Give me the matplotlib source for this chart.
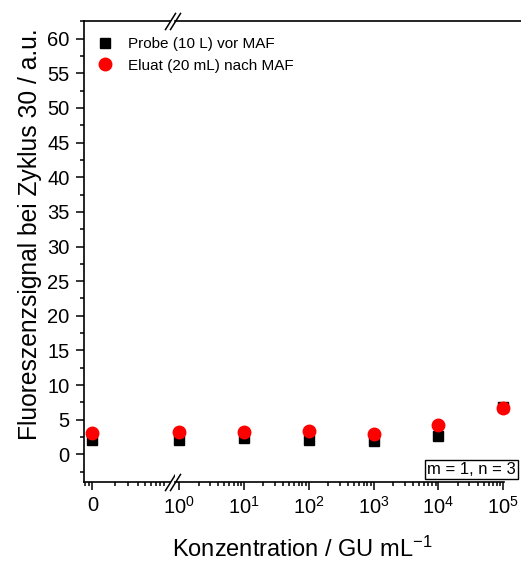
import numpy as np
import matplotlib.pyplot as plt
from matplotlib.ticker import FixedLocator, LogLocator, MultipleLocator, NullFormatter

plt.rcParams['font.family'] = ['Liberation Sans', 'DejaVu Sans']
plt.rcParams['mathtext.fontset'] = 'custom'
plt.rcParams['mathtext.rm'] = 'Liberation Sans'
plt.rcParams['mathtext.it'] = 'Liberation Sans:italic'

# Konzentrationen (GU/mL) und Fluoreszenz bei Zyklus 30
konz = [0, 1e0, 1e1, 1e2, 1e3, 1e4, 1e5]
probe = [2.0, 2.1, 2.4, 2.1, 1.9, 2.7, 6.8]
eluat = [3.1, 3.2, 3.2, 3.3, 2.9, 4.3, 6.7]
xtick_labels = ['0', r'$\mathregular{10^{0}}$', r'$\mathregular{10^{1}}$', r'$\mathregular{10^{2}}$',
                r'$\mathregular{10^{3}}$', r'$\mathregular{10^{4}}$', r'$\mathregular{10^{5}}$']

# die Null steht links vom Achsenbruch bei 0.1 auf einer eigenen log-Achse
x_null = 0.1

W, H = 521, 563
fig = plt.figure(figsize=(W / 100, H / 100), dpi=100)
y0, y1 = 481.7, 20.7
ax1 = fig.add_axes([84 / W, (H - y0) / H, (170 - 84) / W, (y0 - y1) / H])
ax2 = fig.add_axes([175 / W, (H - y0) / H, (W - 175) / W, (y0 - y1) / H], sharey=ax1)

ms_q, ms_k = 7.9, 9.0
for ax, xs, p, e in [(ax1, [x_null], probe[:1], eluat[:1]),
                     (ax2, konz[1:], probe[1:], eluat[1:])]:
    ax.plot(xs, p, ls='none', marker='s', ms=ms_q, color='black', mec='black',
            label='Probe (10 L) vor MAF', clip_on=False, zorder=3)
    ax.plot(xs, e, ls='none', marker='o', ms=ms_k, color='red', mec='red',
            label='Eluat (20 mL) nach MAF', clip_on=False, zorder=4)
    ax.set_xscale('log')
    ax.spines['right'].set_visible(False)
    for s in ['left', 'bottom', 'top']:
        ax.spines[s].set_linewidth(1.2)
    ax.tick_params(which='major', direction='out', length=6, width=1.1, labelsize=14.5,
                   top=False, right=False, pad=4.5)
    ax.tick_params(which='minor', direction='out', length=3, width=1.1, top=False, right=False)
    ax.xaxis.set_minor_formatter(NullFormatter())

ax1.set_xlim(10 ** -1.113, 10 ** 0.033)
ax1.xaxis.set_major_locator(FixedLocator([x_null]))
ax1.set_xticklabels(xtick_labels[:1])
ax1.xaxis.set_minor_locator(LogLocator(base=10, subs=np.arange(2, 10) * 1.0, numticks=20))

ax2.set_xlim(10 ** -0.0617, 10 ** 5.272)
ax2.xaxis.set_major_locator(FixedLocator(konz[1:]))
ax2.set_xticklabels(xtick_labels[1:])
ax2.xaxis.set_minor_locator(FixedLocator([m * 10 ** k for k in range(5) for m in range(2, 10)]))
ax2.spines['left'].set_visible(False)
ax2.spines['bottom'].set_bounds(10 ** -0.0617, 1e5 * 1.01)
ax2.tick_params(axis='y', which='both', left=False, labelleft=False)

ax1.set_ylim(-3.95, 62.6)
ax1.set_yticks(np.arange(0, 61, 5))
ax1.yaxis.set_minor_locator(MultipleLocator(2.5))

# Bruchzeichen oben und unten
brk = dict(ls='none', marker=[(-1, -1.6), (1, 1.6)], ms=12.5, mew=1.1, color='black',
           clip_on=False, zorder=6)
ax1.plot([1, 1], [0, 1], transform=ax1.transAxes, **brk)
ax2.plot([0, 0], [0, 1], transform=ax2.transAxes, **brk)

fig.text(302 / W, 1 - 556.5 / H, r'Konzentration / GU mL$\mathregular{^{-1}}$', fontsize=17,
         ha='center', va='baseline')
fig.text(30 / W, 1 - 234.5 / H, 'Fluoreszenzsignal bei Zyklus 30 / a.u.', fontsize=17.7,
         rotation=90, ha='center', va='center')

handles, labels = ax1.get_legend_handles_labels()
fig.legend(handles, labels, loc='upper left', bbox_to_anchor=(94 / W, 1 - 37 / H),
           frameon=False, fontsize=11, borderpad=0, borderaxespad=0, handletextpad=0.85,
           labelspacing=0.5, handlelength=1.4)

fig.text(516 / W, 1 - 473.5 / H, 'm = 1, n = 3', fontsize=12, ha='right', va='baseline',
         bbox=dict(boxstyle='square,pad=0.12', fc='white', ec='black', lw=1))

fig.savefig('out.png', dpi=100)
